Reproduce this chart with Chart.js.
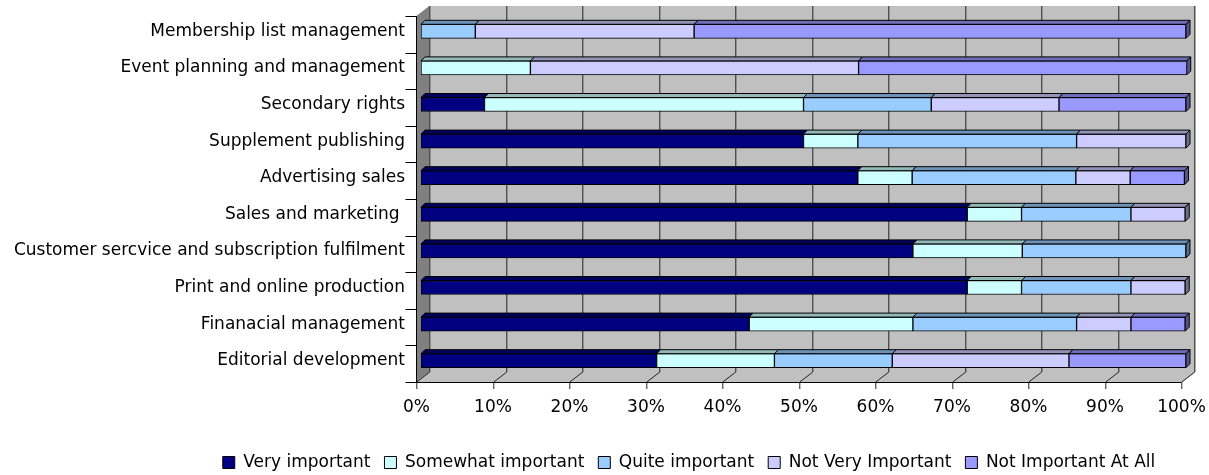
<!DOCTYPE html>
<html>
<head>
<meta charset="utf-8">
<script src="https://cdn.jsdelivr.net/npm/chart.js@4.4.1/dist/chart.umd.min.js"></script>
<style>
  html, body { margin: 0; padding: 0; background: #fff; }
  #wrap { width: 1209px; height: 475px; }
</style>
</head>
<body>
<div id="wrap"><canvas id="grafica" width="1209" height="475"></canvas></div>
<script>
const categorias = [
  "Membership list management",
  "Event planning and management",
  "Secondary rights",
  "Supplement publishing",
  "Advertising sales",
  "Sales and marketing ",
  "Customer sercvice and subscription fulfilment",
  "Print and online production",
  "Finanacial management",
  "Editorial development"
];

const series = [
  "Very important",
  "Somewhat important",
  "Quite important",
  "Not Very Important",
  "Not Important At All"
];

const veryImportant     = [0,    0,    8.3,  50.0, 57.1, 71.4, 64.3, 71.4, 42.9, 30.8];
const somewhatImportant = [0,    14.3, 41.7, 7.1,  7.1,  7.1,  14.3, 7.1,  21.4, 15.4];
const quiteImportant    = [7.1,  0,    16.7, 28.6, 21.4, 14.3, 21.4, 14.3, 21.4, 15.4];
const notVeryImportant  = [28.6, 42.9, 16.7, 14.3, 7.1,  7.1,  0,    7.1,  7.1,  23.1];
const notImportantAtAll = [64.3, 42.9, 16.6, 0,    7.1,  0,    0,    0,    7.1,  15.3];

const ticksX = [0, 10, 20, 30, 40, 50, 60, 70, 80, 90, 100];

const colores = ["#000080", "#CCFFFF", "#99CCFF", "#CCCCFF", "#9999FF"];
const valores = [veryImportant, somewhatImportant, quiteImportant, notVeryImportant, notImportantAtAll];

function oscurecer(hex, f) {
  let r = parseInt(hex.substr(1, 2), 16), g = parseInt(hex.substr(3, 2), 16), b = parseInt(hex.substr(5, 2), 16);
  return `rgb(${Math.round(r * f)},${Math.round(g * f)},${Math.round(b * f)})`;
}

// offsets of the 3D planes relative to the bar plane
const FRONT = { x: -4.7, y: 3 };
const BACK = { x: 8.3, y: -7 };
const DEPTH = 4;

const efecto3d = {
  id: "efecto3d",
  afterLayout(chart) {
    // Excel centres the legend a bit to the right of the canvas centre
    const lg = chart.legend;
    lg.left += 96; lg.right += 96;
    lg.top += 2; lg.bottom += 2;
  },
  beforeDatasetsDraw(chart) {
    const ctx = chart.ctx;
    const a = chart.chartArea;
    const xs = chart.scales.x;
    const x0 = xs.getPixelForValue(0), x1 = xs.getPixelForValue(100);
    ctx.save();
    // back wall
    ctx.fillStyle = "#C0C0C0";
    ctx.fillRect(x0 + BACK.x, a.top + BACK.y, x1 - x0, a.bottom - a.top);
    // floor
    ctx.beginPath();
    ctx.moveTo(x0 + FRONT.x, a.bottom + FRONT.y);
    ctx.lineTo(x1 + FRONT.x, a.bottom + FRONT.y);
    ctx.lineTo(x1 + BACK.x, a.bottom + BACK.y);
    ctx.lineTo(x0 + BACK.x, a.bottom + BACK.y);
    ctx.closePath();
    ctx.fill();
    // side wall
    ctx.fillStyle = "#808080";
    ctx.beginPath();
    ctx.moveTo(x0 + FRONT.x, a.top + FRONT.y);
    ctx.lineTo(x0 + FRONT.x, a.bottom + FRONT.y);
    ctx.lineTo(x0 + BACK.x, a.bottom + BACK.y);
    ctx.lineTo(x0 + BACK.x, a.top + BACK.y);
    ctx.closePath();
    ctx.fill();
    // right edge of wall and floor
    ctx.strokeStyle = "#A8A8A8";
    ctx.lineWidth = 1;
    ctx.beginPath();
    ctx.moveTo(x1 + BACK.x + 0.5, a.top + BACK.y);
    ctx.lineTo(x1 + BACK.x + 0.5, a.bottom + BACK.y);
    ctx.lineTo(x1 + FRONT.x + 0.5, a.bottom + FRONT.y);
    ctx.stroke();
    // gridlines
    ctx.strokeStyle = "#222";
    ticksX.forEach(v => {
      const px = Math.round(xs.getPixelForValue(v)) + 0.5;
      ctx.beginPath();
      ctx.moveTo(px + BACK.x, a.top + BACK.y);
      ctx.lineTo(px + BACK.x, a.bottom + BACK.y);
      ctx.lineTo(px + FRONT.x, a.bottom + FRONT.y);
      ctx.lineTo(px + FRONT.x, a.bottom + FRONT.y + 7);
      ctx.stroke();
    });
    // axes
    ctx.strokeStyle = "#000";
    ctx.beginPath();
    const ax = Math.round(x0 + FRONT.x) + 0.5;
    ctx.moveTo(ax, a.top + FRONT.y);
    ctx.lineTo(ax, a.bottom + FRONT.y + 0.5);
    ctx.lineTo(x1 + FRONT.x, a.bottom + FRONT.y + 0.5);
    const paso = (a.bottom - a.top) / categorias.length;
    for (let i = 0; i <= categorias.length; i++) {
      const py = Math.round(a.top + FRONT.y + i * paso) + 0.5;
      ctx.moveTo(ax - 11, py);
      ctx.lineTo(ax, py);
    }
    ctx.stroke();
    ctx.restore();
  },
  afterDatasetsDraw(chart) {
    const ctx = chart.ctx;
    ctx.save();
    ctx.strokeStyle = "#000";
    ctx.lineWidth = 1;
    ctx.lineJoin = "round";
    for (let i = 0; i < categorias.length; i++) {
      let ultimo = null;
      valores.forEach((serie, d) => {
        if (serie[i] <= 0) return;
        const el = chart.getDatasetMeta(d).data[i];
        const p = el.getProps(["x", "y", "base", "height"], true);
        const izq = Math.min(p.x, p.base), der = Math.max(p.x, p.base);
        const arriba = p.y - p.height / 2;
        ctx.fillStyle = oscurecer(colores[d], 0.72);
        ctx.beginPath();
        ctx.moveTo(izq, arriba);
        ctx.lineTo(izq + DEPTH, arriba - DEPTH);
        ctx.lineTo(der + DEPTH, arriba - DEPTH);
        ctx.lineTo(der, arriba);
        ctx.closePath();
        ctx.fill();
        ctx.stroke();
        ultimo = { d, der, arriba, abajo: p.y + p.height / 2 };
      });
      if (ultimo) {
        ctx.fillStyle = oscurecer(colores[ultimo.d], 0.55);
        ctx.beginPath();
        ctx.moveTo(ultimo.der, ultimo.arriba);
        ctx.lineTo(ultimo.der + DEPTH, ultimo.arriba - DEPTH);
        ctx.lineTo(ultimo.der + DEPTH, ultimo.abajo - DEPTH);
        ctx.lineTo(ultimo.der, ultimo.abajo);
        ctx.closePath();
        ctx.fill();
        ctx.stroke();
      }
    }
    ctx.restore();
  }
};

Chart.defaults.font.family = "'DejaVu Sans', Verdana, sans-serif";
Chart.defaults.font.size = 17;
Chart.defaults.color = "#000";

new Chart(document.getElementById("grafica"), {
  type: "bar",
  data: {
    labels: categorias,
    datasets: series.map((nombre, d) => ({
      label: nombre,
      data: valores[d],
      backgroundColor: colores[d],
      borderColor: "#000",
      borderWidth: 1,
      barThickness: 14,
      borderSkipped: false
    }))
  },
  options: {
    indexAxis: "y",
    responsive: false,
    animation: false,
    layout: { padding: { top: 13, right: 23, left: 0, bottom: -4 } },
    scales: {
      x: {
        stacked: true,
        min: 0,
        max: 100,
        grid: { display: false, drawTicks: false },
        border: { display: false },
        afterBuildTicks: s => { s.ticks = ticksX.map(v => ({ value: v })); },
        afterFit: s => { s.height = 59; s.paddingLeft = 0; s.paddingRight = 0; },
        ticks: { padding: 18, labelOffset: -4.5, maxRotation: 0, callback: v => v + "%" }
      },
      y: {
        stacked: true,
        grid: { display: false, drawTicks: false },
        border: { display: false },
        afterFit: s => { s.width = 421; s.paddingTop = 0; s.paddingBottom = 0; },
        ticks: { padding: 16 }
      }
    },
    plugins: {
      legend: {
        position: "bottom",
        labels: { boxWidth: 12, boxHeight: 12, padding: 14 }
      },
      tooltip: { enabled: false }
    }
  },
  plugins: [efecto3d]
});
</script>
</body>
</html>
